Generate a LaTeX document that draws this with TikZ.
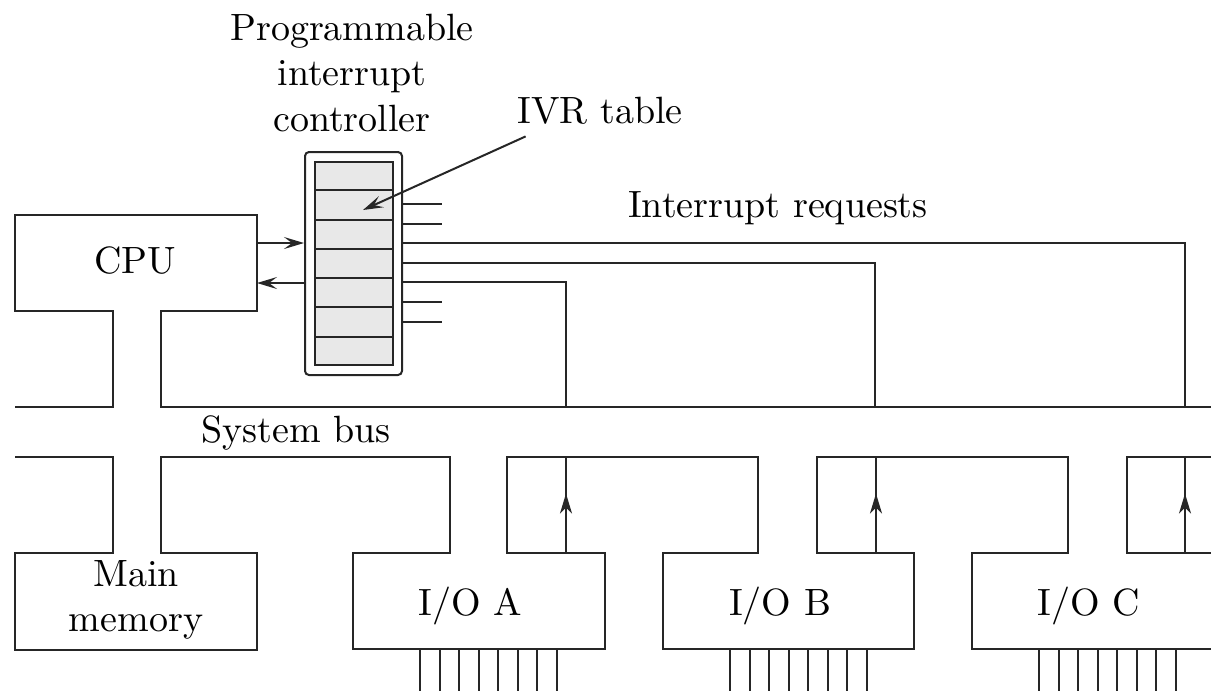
\documentclass[tikz,border=0pt]{standalone}
\usetikzlibrary{arrows.meta,calc,decorations.markings}

\begin{document}
\begin{tikzpicture}[
  x=0.25pt, y=-0.25pt,
  wire/.style={line width=0.5pt, black!85},
  lbl/.style={font=\fontsize{9.5}{11.4}\selectfont, align=center, inner sep=0pt},
  arr/.style={wire, -{Stealth[length=5pt,width=3pt,inset=2pt]}},
  uparr/.style={wire, decoration={markings, mark=at position 0.62 with {\arrow{Stealth[length=5pt,width=3pt,inset=1.5pt]}}}, postaction={decorate}},
  ctrl/.style={draw, line width=0.5pt, black!85, inner sep=0pt}
]
\clip (0,0) rectangle (1211,690);

% labels
\node[lbl] (piclbl) at (352,73) {Programmable\\interrupt\\controller};
\node[lbl] (ivrlbl) at (600,111) {IVR table};
\node[lbl] (irqlbl) at (778,208) {Interrupt requests};
\node[lbl] (buslbl) at (296,433) {System bus};
\node[lbl] (cpu) at (135,261) {CPU};
\node[lbl] (mem) at (136,600) {Main\\memory};

% interrupt controller with IVR table
\node[ctrl, rounded corners=1pt, minimum width=24.25pt, minimum height=55.75pt] (pic) at (353.5,263.5) {};
\node[ctrl, fill=gray!18, minimum width=19.5pt, minimum height=50.75pt] (ivr) at (354,263.5) {};
\foreach \k in {1,...,6}
  \draw[wire] ($(ivr.north west)!\k/7!(ivr.south west)$) -- ($(ivr.north east)!\k/7!(ivr.south east)$);

% CPU and top edge of the bus
\draw[wire] (15,407) -- (113,407) -- (113,311) -- (15,311) -- (15,215) -- (257,215)
  -- (257,311) -- (161,311) -- (161,407) -- (1215,407);

% bottom edge of the bus, memory and I/O modules
\draw[wire] (15,457) -- (113,457) -- (113,553) -- (15,553) -- (15,650) -- (257,650)
  -- (257,553) -- (161,553) -- (161,457) -- (450,457) -- (450,553) -- (353,553)
  -- (353,649) -- (605,649) -- (605,553) -- (507,553) -- (507,457) -- (758,457)
  -- (758,553) -- (663,553) -- (663,649) -- (914,649) -- (914,553) -- (817,553)
  -- (817,457) -- (1068,457) -- (1068,553) -- (972,553) -- (972,649) -- (1215,649);
\draw[wire] (1215,553) -- (1127,553) -- (1127,457) -- (1215,457);

\foreach \n/\d in {A/0, B/310, C/619} {
  \node[lbl] (io\n) at (470+\d,606) {I/O \n};
  \foreach \k in {0,...,7}
    \draw[wire] (420+\d+19.5*\k,649) -- (420+\d+19.5*\k,695);
  \draw[uparr] (566+\d,553) -- (566+\d,457);
}

% CPU <-> controller
\draw[arr] (257,243) -- (257,243 -| pic.west);
\draw[arr] (pic.west |- 0,283) -- (257,283);
\draw[arr] ([xshift=2.25pt,yshift=-2.75pt]ivrlbl.south west) -- (363,210);

% interrupt request lines
\draw[wire] (pic.east |- 0,243) -- (1185,243) -- (1185,407);
\draw[wire] (pic.east |- 0,263) -- (875,263) -- (875,407);
\draw[wire] (pic.east |- 0,282) -- (566,282) -- (566,407);
\foreach \y in {204,224,302,322}
  \draw[wire] (pic.east |- 0,\y) -- (442,\y);
\end{tikzpicture}
\end{document}
